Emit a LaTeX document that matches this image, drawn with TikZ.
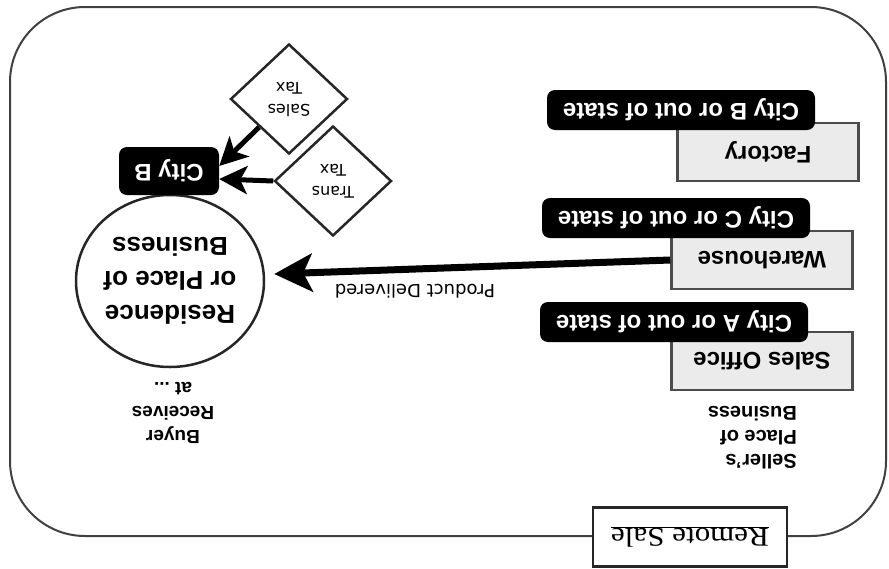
\documentclass[tikz,border=0pt]{standalone}
\usepackage{fontspec}
\setsansfont{Liberation Sans}
\newfontfamily\dvfont{DejaVu Sans}
\newfontfamily\serifrs{Liberation Serif}
\usetikzlibrary{shapes.geometric,arrows.meta,calc}
\begin{document}
\begin{tikzpicture}[x={(-1pt,0pt)}, y={(0pt,1pt)}, rotate=180, transform shape,
  graybox/.style={draw=black!70, line width=2.5pt, fill=black!8,
    font=\sffamily\bfseries\fontsize{24}{28}\selectfont,
    minimum width=181pt, minimum height=58pt, inner sep=0pt},
  blackbox/.style={fill=black, text=white, rounded corners=8pt,
    font=\sffamily\bfseries\fontsize{24}{28}\selectfont,
    minimum width=268pt, minimum height=40pt, inner sep=0pt},
  diam/.style={diamond, draw=black!85, line width=2.5pt, fill=white,
    font=\dvfont\fontsize{16}{22}\selectfont, align=center,
    minimum width=117pt, minimum height=110pt, inner sep=0pt},
  boldtext/.style={font=\sffamily\bfseries\fontsize{20}{24}\selectfont, inner sep=0pt},
  ptr/.style={line width=5pt, -{Stealth[length=28pt, width=28pt, inset=7pt]}},
  bigptr/.style={line width=7pt, -{Stealth[length=38pt, width=38pt, inset=9pt]}}
]
\useasboundingbox (0,0) rectangle (889,568);
\draw[line width=2pt, draw=black!75, rounded corners=75pt] (10,7) rectangle (886,536);
\node[draw=black!85, line width=2.5pt, fill=white, minimum width=194pt,
  minimum height=59pt, inner sep=0pt, font=\serifrs\fontsize{27}{30}\selectfont]
  (rs) at (690,537) {\scalebox{1.15}[1]{\underline{Remote Sale}}};

% seller side
\node[boldtext, anchor=west, align=left] (seller) at (797,438) {Seller’s\\Place of\\Business};
\node[graybox] (so) at (762,361) {Sales Office};
\node[graybox] (wh) at (762,260) {Warehouse};
\node[graybox] (fa) at (768,152) {Factory};
\node[blackbox] (ca) at (674,322) {City A or out of state};
\node[blackbox] (cc) at (676,218) {City C or out of state};
\node[blackbox] (cbs) at (681,110) {City B or out of state};

% buyer side
\node[ellipse, draw=black!85, line width=2.5pt, minimum width=186pt, minimum height=172pt,
  inner sep=0pt, align=center, font=\sffamily\bfseries\fontsize{26}{34}\selectfont]
  (circ) at (170,281) {Residence\\or Place of\\Business};
\node[blackbox, minimum width=100pt, minimum height=48pt] (cb) at (169,171) {City B};
\node[boldtext, align=center, font=\sffamily\bfseries\fontsize{19}{24}\selectfont]
  (buyer) at (173,413) {Buyer\\Receives\\at ...};

\node[diam] (st) at (289,99) {Sales\\Tax};
\node[diam] (tt) at (333,181) {Trans\\Tax};

\draw[ptr] (st.north east) -- ($(cb.west)+(0,-5)$);
\draw[ptr] (tt.east) -- ($(cb.west)+(0,8)$);

\draw[bigptr] (wh.east) -- ($(circ.west)+(9,-7)$);
\node[font=\dvfont\fontsize{18}{20}\selectfont, inner sep=0pt] (pd) at (415,291) {Product Delivered};
\end{tikzpicture}
\end{document}
